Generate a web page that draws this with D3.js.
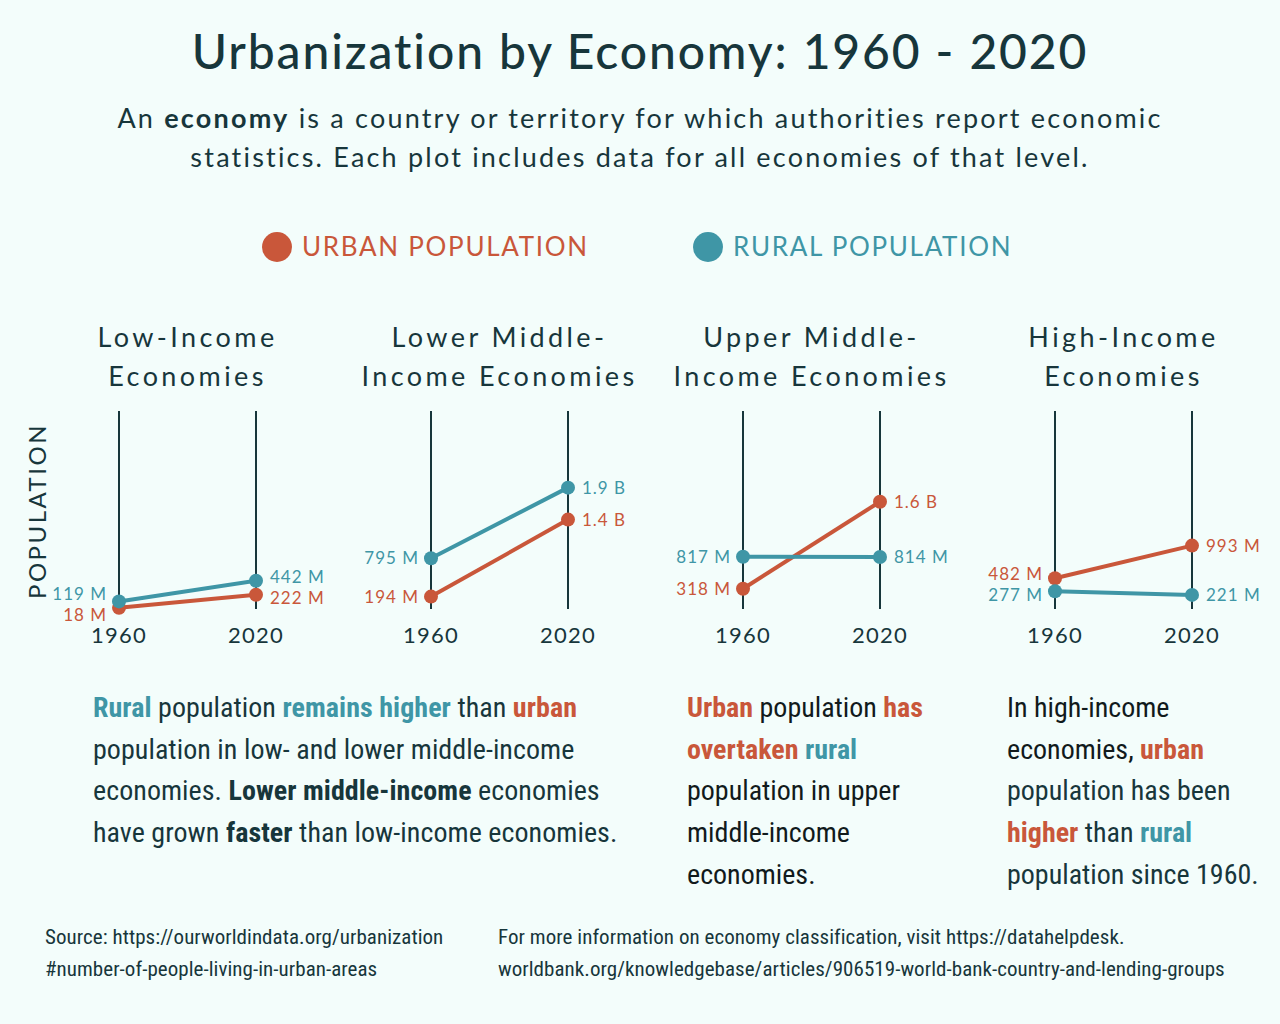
<!DOCTYPE html>
<html>
<head>
<meta charset="utf-8">
<script src="https://cdn.jsdelivr.net/npm/d3@7"></script>
<style>
  body { margin: 0; background: #f3fdfb; }
  svg { display: block; }
</style>
</head>
<body>
<div id="chart"></div>
<script>
// data
const economies = ["Low-Income Economies", "Lower Middle-Income Economies", "Upper Middle-Income Economies", "High-Income Economies"];
const titleLines = [["Low-Income", "Economies"], ["Lower Middle-", "Income Economies"], ["Upper Middle-", "Income Economies"], ["High-Income", "Economies"]];
const years = [1960, 2020];
// population in millions
const urban1960 = [18, 194, 318, 482];
const urban2020 = [222, 1400, 1680, 993];
const rural1960 = [119, 795, 817, 277];
const rural2020 = [442, 1900, 814, 221];

const width = 1280
const height = 1024
const bg = "#f3fdfb"
const dark = "#17363b"
const urbanCol = "#c9573a"
const ruralCol = "#3f96a6"
const geo = "Lato, 'Open Sans', sans-serif"
const narrow = "'Liberation Sans Narrow', 'Roboto Condensed', 'DejaVu Sans Condensed', 'Liberation Sans', sans-serif"

const svg = d3.select("#chart")
  .append("svg")
  .attr("width", width)
  .attr("height", height)
  .style("background", bg);

// title + subtitle
svg.append("text")
  .attr("x", width / 2)
  .attr("y", 69)
  .attr("text-anchor", "middle")
  .style("font-family", geo)
  .style("font-size", "48px")
  .style("font-weight", 500)
  .style("letter-spacing", "1.9px")
  .style("fill", dark)
  .text("Urbanization by Economy: 1960 - 2020");

// rich text helper: each line is a list of [text, style]
const styles = {
  n: { fill: dark, weight: 400 },
  k: { fill: "#111a1c", weight: 400 },
  b: { fill: dark, weight: 700 },
  t: { fill: ruralCol, weight: 700 },
  o: { fill: urbanCol, weight: 700 }
}
function richText(lines, x, y, lh, size, family, anchor, ls) {
  const t = svg.append("text")
    .attr("text-anchor", anchor || "start")
    .style("font-family", family)
    .style("font-size", size + "px")
    .style("letter-spacing", (ls || 0) + "px");
  lines.forEach((line, i) => {
    line.forEach((seg, j) => {
      const s = t.append("tspan")
        .style("fill", styles[seg[1]].fill)
        .style("font-weight", styles[seg[1]].weight)
        .text(seg[0]);
      if (j === 0) s.attr("x", x).attr("y", y + i * lh);
    });
  });
  return t;
}

richText([
  [["An ", "n"], ["economy", "b"], [" is a country or territory for which authorities report economic", "n"]],
  [["statistics. Each plot includes data for all economies of that level.", "n"]]
], width / 2, 128, 39, 27, geo, "middle", 2.2);

// legend
const legend = [["URBAN POPULATION", urbanCol, 277], ["RURAL POPULATION", ruralCol, 708]];
legend.forEach(d => {
  svg.append("circle").attr("cx", d[2]).attr("cy", 247).attr("r", 15).attr("fill", d[1]);
  svg.append("text")
    .attr("x", d[2] + 25)
    .attr("y", 256)
    .style("font-family", geo)
    .style("font-size", "26px")
    .style("letter-spacing", "1.7px")
    .style("fill", d[1])
    .text(d[0]);
});

// scales
const panelX = d3.scalePoint().domain(economies).range([119, 1055]);
const x = d3.scaleLinear().domain(d3.extent(years)).range([0, 137]);
const y = d3.scaleLinear().domain([0, 3100]).range([609, 411]);

const fmt = v => v < 1000 ? `${v} M` : `${Math.floor(v / 100) / 10} B`;

// y label
svg.append("text")
  .attr("transform", "translate(46,511) rotate(-90)")
  .attr("text-anchor", "middle")
  .style("font-family", geo)
  .style("font-size", "24px")
  .style("letter-spacing", "2.5px")
  .style("fill", dark)
  .text("POPULATION");

economies.forEach((eco, i) => {
  const g = svg.append("g").attr("transform", `translate(${panelX(eco)},0)`);

  // panel title
  titleLines[i].forEach((t, k) => {
    g.append("text")
      .attr("x", x(1990))
      .attr("y", 347 + k * 39)
      .attr("text-anchor", "middle")
      .style("font-family", geo)
      .style("font-size", "27px")
      .style("letter-spacing", "3.4px")
      .style("fill", dark)
      .text(t);
  });

  // vertical year lines
  g.selectAll(".yr")
    .data(years)
    .join("line")
    .attr("x1", d => x(d)).attr("x2", d => x(d))
    .attr("y1", y.range()[1]).attr("y2", y.range()[0])
    .attr("stroke", dark)
    .attr("stroke-width", 2);

  g.selectAll(".yl")
    .data(years)
    .join("text")
    .attr("x", d => x(d))
    .attr("y", 643)
    .attr("text-anchor", "middle")
    .style("font-family", geo)
    .style("font-size", "22px")
    .style("letter-spacing", "1.2px")
    .style("fill", dark)
    .text(d => d);

  const series = [
    { col: urbanCol, vals: [urban1960[i], urban2020[i]] },
    { col: ruralCol, vals: [rural1960[i], rural2020[i]] }
  ];

  series.forEach(s => {
    g.append("path")
      .attr("d", d3.line().x((d, k) => x(years[k])).y(d => y(d))(s.vals))
      .attr("fill", "none")
      .attr("stroke", s.col)
      .attr("stroke-width", 4);
    g.selectAll(null)
      .data(s.vals)
      .join("circle")
      .attr("cx", (d, k) => x(years[k]))
      .attr("cy", d => y(d))
      .attr("r", 7)
      .attr("fill", s.col);
  });

  // value labels, nudged apart when too close
  years.forEach((yr, k) => {
    let pos = series.map(s => ({ col: s.col, v: s.vals[k], ly: y(s.vals[k]) }));
    const gap = Math.abs(pos[0].ly - pos[1].ly);
    const minGap = 21;
    if (gap < minGap) {
      const mid = (pos[0].ly + pos[1].ly) / 2;
      const up = pos[0].ly < pos[1].ly ? 0 : 1;
      pos[up].ly = mid - minGap / 2;
      pos[1 - up].ly = mid + minGap / 2;
    }
    g.selectAll(null)
      .data(pos)
      .join("text")
      .attr("x", k === 0 ? x(yr) - 12 : x(yr) + 14)
      .attr("y", d => d.ly)
      .attr("dy", "0.35em")
      .attr("text-anchor", k === 0 ? "end" : "start")
      .style("font-family", geo)
      .style("font-size", "17px")
      .style("letter-spacing", "1px")
      .style("fill", d => d.col)
      .text(d => fmt(d.v));
  });
});

// annotations
const lh = 41.7
richText([
  [["Rural", "t"], [" population ", "n"], ["remains higher", "t"], [" than ", "n"], ["urban", "o"]],
  [["population in low- and lower middle-income", "n"]],
  [["economies. ", "n"], ["Lower middle-income", "b"], [" economies", "n"]],
  [["have grown ", "n"], ["faster", "b"], [" than low-income economies.", "n"]]
], 93, 717, lh, 28, narrow, "start", 0.05);

richText([
  [["Urban", "o"], [" population ", "k"], ["has", "o"]],
  [["overtaken", "o"], [" ", "k"], ["rural", "t"]],
  [["population in upper", "k"]],
  [["middle-income", "k"]],
  [["economies.", "k"]]
], 687, 717, lh, 28, narrow);

richText([
  [["In high-income", "k"]],
  [["economies, ", "k"], ["urban", "o"]],
  [["population has been", "n"]],
  [["higher", "o"], [" than ", "n"], ["rural", "t"]],
  [["population since 1960.", "n"]]
], 1007, 717, lh, 28, narrow);

// sources
svg.append("g").selectAll("text")
  .data([
    [45, 944, "Source: https://ourworldindata.org/urbanization"],
    [45, 976, "#number-of-people-living-in-urban-areas"],
    [498, 944, "For more information on economy classification, visit https://datahelpdesk."],
    [498, 976, "worldbank.org/knowledgebase/articles/906519-world-bank-country-and-lending-groups"]
  ])
  .join("text")
  .attr("x", d => d[0])
  .attr("y", d => d[1])
  .style("font-family", narrow)
  .style("font-size", "21px")
  .style("letter-spacing", "0.05px")
  .style("fill", dark)
  .text(d => d[2]);
</script>
</body>
</html>
